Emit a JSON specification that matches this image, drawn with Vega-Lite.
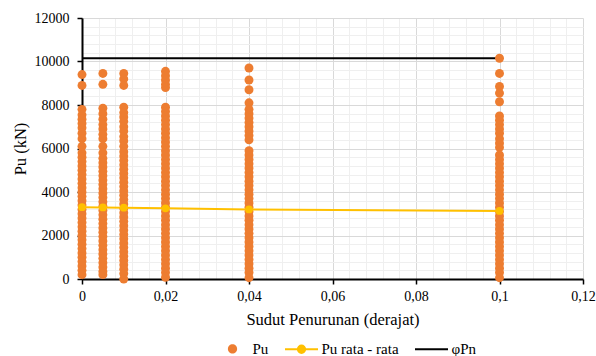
{
  "$schema": "https://vega.github.io/schema/vega-lite/v6.json",
  "width": 501,
  "height": 261,
  "autosize": {"type": "none"},
  "padding": {"left": 82, "top": 18, "right": 13, "bottom": 77},
  "background": "white",
  "config": {
    "view": {"stroke": null},
    "font": "Liberation Serif",
    "axis": {
      "labelFont": "Liberation Serif",
      "titleFont": "Liberation Serif",
      "labelColor": "#000000",
      "titleColor": "#000000",
      "titleFontWeight": "normal"
    },
    "legend": {"labelFont": "Liberation Serif", "labelColor": "#000000"}
  },
  "resolve": {"axis": {"x": "independent", "y": "independent"}},
  "layer": [
    {
      "description": "phi Pn capacity line; also carries the minor gridlines",
      "data": {"values": [
        {"x": 0, "pu": 10150},
        {"x": 0.1, "pu": 10150}
      ]},
      "mark": {"type": "line", "color": "#000000", "strokeWidth": 2},
      "encoding": {
        "x": {
          "field": "x", "type": "quantitative",
          "scale": {"domain": [0, 0.12], "nice": false, "zero": false},
          "axis": {
            "orient": "bottom", "title": null, "labels": false, "ticks": false, "domain": false,
            "grid": true, "gridColor": "#efefef", "gridWidth": 1,
            "values": [0.004, 0.008, 0.012, 0.016, 0.024, 0.028, 0.032, 0.036, 0.044, 0.048, 0.052, 0.056, 0.064, 0.068, 0.072, 0.076, 0.084, 0.088, 0.092, 0.096, 0.104, 0.108, 0.112, 0.116]
          }
        },
        "y": {
          "field": "pu", "type": "quantitative",
          "scale": {"domain": [0, 12000], "nice": false},
          "axis": {
            "orient": "left", "title": null, "labels": false, "ticks": false, "domain": false,
            "grid": true, "gridColor": "#efefef", "gridWidth": 1,
            "values": [400, 800, 1200, 1600, 2400, 2800, 3200, 3600, 4400, 4800, 5200, 5600, 6400, 6800, 7200, 7600, 8400, 8800, 9200, 9600, 10400, 10800, 11200, 11600]
          }
        }
      }
    },
    {
      "description": "Pu values for every settlement angle",
      "data": {"values": [
        {"series": "Pu", "x": 0, "pu": 9400}, {"series": "Pu", "x": 0, "pu": 8900}, {"series": "Pu", "x": 0, "pu": 7800}, {"series": "Pu", "x": 0, "pu": 7550},
        {"series": "Pu", "x": 0, "pu": 7350}, {"series": "Pu", "x": 0, "pu": 7150}, {"series": "Pu", "x": 0, "pu": 6950}, {"series": "Pu", "x": 0, "pu": 6700},
        {"series": "Pu", "x": 0, "pu": 6450}, {"series": "Pu", "x": 0, "pu": 6100}, {"series": "Pu", "x": 0, "pu": 5800}, {"series": "Pu", "x": 0, "pu": 5600},
        {"series": "Pu", "x": 0, "pu": 5400}, {"series": "Pu", "x": 0, "pu": 5200}, {"series": "Pu", "x": 0, "pu": 5000}, {"series": "Pu", "x": 0, "pu": 4800},
        {"series": "Pu", "x": 0, "pu": 4600}, {"series": "Pu", "x": 0, "pu": 4400}, {"series": "Pu", "x": 0, "pu": 4200}, {"series": "Pu", "x": 0, "pu": 4000},
        {"series": "Pu", "x": 0, "pu": 3800}, {"series": "Pu", "x": 0, "pu": 3600}, {"series": "Pu", "x": 0, "pu": 3400}, {"series": "Pu", "x": 0, "pu": 3200},
        {"series": "Pu", "x": 0, "pu": 3000}, {"series": "Pu", "x": 0, "pu": 2800}, {"series": "Pu", "x": 0, "pu": 2600}, {"series": "Pu", "x": 0, "pu": 2400},
        {"series": "Pu", "x": 0, "pu": 2200}, {"series": "Pu", "x": 0, "pu": 2000}, {"series": "Pu", "x": 0, "pu": 1800}, {"series": "Pu", "x": 0, "pu": 1600},
        {"series": "Pu", "x": 0, "pu": 1400}, {"series": "Pu", "x": 0, "pu": 1200}, {"series": "Pu", "x": 0, "pu": 1000}, {"series": "Pu", "x": 0, "pu": 800},
        {"series": "Pu", "x": 0, "pu": 600}, {"series": "Pu", "x": 0, "pu": 400}, {"series": "Pu", "x": 0, "pu": 200},

        {"series": "Pu", "x": 0.005, "pu": 9450}, {"series": "Pu", "x": 0.005, "pu": 8950}, {"series": "Pu", "x": 0.005, "pu": 7850}, {"series": "Pu", "x": 0.005, "pu": 7600},
        {"series": "Pu", "x": 0.005, "pu": 7350}, {"series": "Pu", "x": 0.005, "pu": 7100}, {"series": "Pu", "x": 0.005, "pu": 6900}, {"series": "Pu", "x": 0.005, "pu": 6650},
        {"series": "Pu", "x": 0.005, "pu": 6450}, {"series": "Pu", "x": 0.005, "pu": 6100}, {"series": "Pu", "x": 0.005, "pu": 5800}, {"series": "Pu", "x": 0.005, "pu": 5550},
        {"series": "Pu", "x": 0.005, "pu": 5350}, {"series": "Pu", "x": 0.005, "pu": 5150}, {"series": "Pu", "x": 0.005, "pu": 4950}, {"series": "Pu", "x": 0.005, "pu": 4750},
        {"series": "Pu", "x": 0.005, "pu": 4550}, {"series": "Pu", "x": 0.005, "pu": 4350}, {"series": "Pu", "x": 0.005, "pu": 4150}, {"series": "Pu", "x": 0.005, "pu": 3950},
        {"series": "Pu", "x": 0.005, "pu": 3750}, {"series": "Pu", "x": 0.005, "pu": 3550}, {"series": "Pu", "x": 0.005, "pu": 3350}, {"series": "Pu", "x": 0.005, "pu": 3150},
        {"series": "Pu", "x": 0.005, "pu": 2950}, {"series": "Pu", "x": 0.005, "pu": 2750}, {"series": "Pu", "x": 0.005, "pu": 2550}, {"series": "Pu", "x": 0.005, "pu": 2350},
        {"series": "Pu", "x": 0.005, "pu": 2150}, {"series": "Pu", "x": 0.005, "pu": 1950}, {"series": "Pu", "x": 0.005, "pu": 1750}, {"series": "Pu", "x": 0.005, "pu": 1550},
        {"series": "Pu", "x": 0.005, "pu": 1350}, {"series": "Pu", "x": 0.005, "pu": 1150}, {"series": "Pu", "x": 0.005, "pu": 950}, {"series": "Pu", "x": 0.005, "pu": 750},
        {"series": "Pu", "x": 0.005, "pu": 550}, {"series": "Pu", "x": 0.005, "pu": 350}, {"series": "Pu", "x": 0.005, "pu": 200},

        {"series": "Pu", "x": 0.01, "pu": 9450}, {"series": "Pu", "x": 0.01, "pu": 9200}, {"series": "Pu", "x": 0.01, "pu": 8900}, {"series": "Pu", "x": 0.01, "pu": 7900},
        {"series": "Pu", "x": 0.01, "pu": 7650}, {"series": "Pu", "x": 0.01, "pu": 7450}, {"series": "Pu", "x": 0.01, "pu": 7250}, {"series": "Pu", "x": 0.01, "pu": 7000},
        {"series": "Pu", "x": 0.01, "pu": 6800}, {"series": "Pu", "x": 0.01, "pu": 6550}, {"series": "Pu", "x": 0.01, "pu": 6350}, {"series": "Pu", "x": 0.01, "pu": 6100},
        {"series": "Pu", "x": 0.01, "pu": 5850}, {"series": "Pu", "x": 0.01, "pu": 5650}, {"series": "Pu", "x": 0.01, "pu": 5450}, {"series": "Pu", "x": 0.01, "pu": 5250},
        {"series": "Pu", "x": 0.01, "pu": 5050}, {"series": "Pu", "x": 0.01, "pu": 4850}, {"series": "Pu", "x": 0.01, "pu": 4650}, {"series": "Pu", "x": 0.01, "pu": 4450},
        {"series": "Pu", "x": 0.01, "pu": 4250}, {"series": "Pu", "x": 0.01, "pu": 4050}, {"series": "Pu", "x": 0.01, "pu": 3850}, {"series": "Pu", "x": 0.01, "pu": 3650},
        {"series": "Pu", "x": 0.01, "pu": 3450}, {"series": "Pu", "x": 0.01, "pu": 3250}, {"series": "Pu", "x": 0.01, "pu": 3050}, {"series": "Pu", "x": 0.01, "pu": 2850},
        {"series": "Pu", "x": 0.01, "pu": 2650}, {"series": "Pu", "x": 0.01, "pu": 2450}, {"series": "Pu", "x": 0.01, "pu": 2250}, {"series": "Pu", "x": 0.01, "pu": 2050},
        {"series": "Pu", "x": 0.01, "pu": 1850}, {"series": "Pu", "x": 0.01, "pu": 1650}, {"series": "Pu", "x": 0.01, "pu": 1450}, {"series": "Pu", "x": 0.01, "pu": 1250},
        {"series": "Pu", "x": 0.01, "pu": 1050}, {"series": "Pu", "x": 0.01, "pu": 850}, {"series": "Pu", "x": 0.01, "pu": 650}, {"series": "Pu", "x": 0.01, "pu": 450},
        {"series": "Pu", "x": 0.01, "pu": 250}, {"series": "Pu", "x": 0.01, "pu": 0},

        {"series": "Pu", "x": 0.02, "pu": 9550}, {"series": "Pu", "x": 0.02, "pu": 9350}, {"series": "Pu", "x": 0.02, "pu": 9150}, {"series": "Pu", "x": 0.02, "pu": 8950},
        {"series": "Pu", "x": 0.02, "pu": 8800}, {"series": "Pu", "x": 0.02, "pu": 7900}, {"series": "Pu", "x": 0.02, "pu": 7700}, {"series": "Pu", "x": 0.02, "pu": 7500},
        {"series": "Pu", "x": 0.02, "pu": 7300}, {"series": "Pu", "x": 0.02, "pu": 7100}, {"series": "Pu", "x": 0.02, "pu": 6900}, {"series": "Pu", "x": 0.02, "pu": 6700},
        {"series": "Pu", "x": 0.02, "pu": 6500}, {"series": "Pu", "x": 0.02, "pu": 6300}, {"series": "Pu", "x": 0.02, "pu": 6100}, {"series": "Pu", "x": 0.02, "pu": 5900},
        {"series": "Pu", "x": 0.02, "pu": 5700}, {"series": "Pu", "x": 0.02, "pu": 5500}, {"series": "Pu", "x": 0.02, "pu": 5300}, {"series": "Pu", "x": 0.02, "pu": 5100},
        {"series": "Pu", "x": 0.02, "pu": 4900}, {"series": "Pu", "x": 0.02, "pu": 4700}, {"series": "Pu", "x": 0.02, "pu": 4500}, {"series": "Pu", "x": 0.02, "pu": 4300},
        {"series": "Pu", "x": 0.02, "pu": 4100}, {"series": "Pu", "x": 0.02, "pu": 3900}, {"series": "Pu", "x": 0.02, "pu": 3700}, {"series": "Pu", "x": 0.02, "pu": 3500},
        {"series": "Pu", "x": 0.02, "pu": 3300}, {"series": "Pu", "x": 0.02, "pu": 3100}, {"series": "Pu", "x": 0.02, "pu": 2900}, {"series": "Pu", "x": 0.02, "pu": 2700},
        {"series": "Pu", "x": 0.02, "pu": 2500}, {"series": "Pu", "x": 0.02, "pu": 2300}, {"series": "Pu", "x": 0.02, "pu": 2100}, {"series": "Pu", "x": 0.02, "pu": 1900},
        {"series": "Pu", "x": 0.02, "pu": 1700}, {"series": "Pu", "x": 0.02, "pu": 1500}, {"series": "Pu", "x": 0.02, "pu": 1300}, {"series": "Pu", "x": 0.02, "pu": 1100},
        {"series": "Pu", "x": 0.02, "pu": 900}, {"series": "Pu", "x": 0.02, "pu": 700}, {"series": "Pu", "x": 0.02, "pu": 500}, {"series": "Pu", "x": 0.02, "pu": 300},
        {"series": "Pu", "x": 0.02, "pu": 80},

        {"series": "Pu", "x": 0.04, "pu": 9700}, {"series": "Pu", "x": 0.04, "pu": 9150}, {"series": "Pu", "x": 0.04, "pu": 8700}, {"series": "Pu", "x": 0.04, "pu": 8100},
        {"series": "Pu", "x": 0.04, "pu": 7800}, {"series": "Pu", "x": 0.04, "pu": 7600}, {"series": "Pu", "x": 0.04, "pu": 7400}, {"series": "Pu", "x": 0.04, "pu": 7200},
        {"series": "Pu", "x": 0.04, "pu": 7000}, {"series": "Pu", "x": 0.04, "pu": 6800}, {"series": "Pu", "x": 0.04, "pu": 6600}, {"series": "Pu", "x": 0.04, "pu": 6400},
        {"series": "Pu", "x": 0.04, "pu": 5900}, {"series": "Pu", "x": 0.04, "pu": 5700}, {"series": "Pu", "x": 0.04, "pu": 5500}, {"series": "Pu", "x": 0.04, "pu": 5300},
        {"series": "Pu", "x": 0.04, "pu": 5100}, {"series": "Pu", "x": 0.04, "pu": 4900}, {"series": "Pu", "x": 0.04, "pu": 4700}, {"series": "Pu", "x": 0.04, "pu": 4500},
        {"series": "Pu", "x": 0.04, "pu": 4300}, {"series": "Pu", "x": 0.04, "pu": 4100}, {"series": "Pu", "x": 0.04, "pu": 3900}, {"series": "Pu", "x": 0.04, "pu": 3700},
        {"series": "Pu", "x": 0.04, "pu": 3500}, {"series": "Pu", "x": 0.04, "pu": 3300}, {"series": "Pu", "x": 0.04, "pu": 3100}, {"series": "Pu", "x": 0.04, "pu": 2900},
        {"series": "Pu", "x": 0.04, "pu": 2700}, {"series": "Pu", "x": 0.04, "pu": 2500}, {"series": "Pu", "x": 0.04, "pu": 2300}, {"series": "Pu", "x": 0.04, "pu": 2100},
        {"series": "Pu", "x": 0.04, "pu": 1900}, {"series": "Pu", "x": 0.04, "pu": 1700}, {"series": "Pu", "x": 0.04, "pu": 1500}, {"series": "Pu", "x": 0.04, "pu": 1300},
        {"series": "Pu", "x": 0.04, "pu": 1100}, {"series": "Pu", "x": 0.04, "pu": 900}, {"series": "Pu", "x": 0.04, "pu": 700}, {"series": "Pu", "x": 0.04, "pu": 500},
        {"series": "Pu", "x": 0.04, "pu": 300}, {"series": "Pu", "x": 0.04, "pu": 60},

        {"series": "Pu", "x": 0.1, "pu": 10150}, {"series": "Pu", "x": 0.1, "pu": 9450}, {"series": "Pu", "x": 0.1, "pu": 8850}, {"series": "Pu", "x": 0.1, "pu": 8550},
        {"series": "Pu", "x": 0.1, "pu": 8150}, {"series": "Pu", "x": 0.1, "pu": 7500}, {"series": "Pu", "x": 0.1, "pu": 7300}, {"series": "Pu", "x": 0.1, "pu": 7100},
        {"series": "Pu", "x": 0.1, "pu": 6900}, {"series": "Pu", "x": 0.1, "pu": 6700}, {"series": "Pu", "x": 0.1, "pu": 6450}, {"series": "Pu", "x": 0.1, "pu": 6250},
        {"series": "Pu", "x": 0.1, "pu": 6050}, {"series": "Pu", "x": 0.1, "pu": 5700}, {"series": "Pu", "x": 0.1, "pu": 5500}, {"series": "Pu", "x": 0.1, "pu": 5300},
        {"series": "Pu", "x": 0.1, "pu": 5100}, {"series": "Pu", "x": 0.1, "pu": 4900}, {"series": "Pu", "x": 0.1, "pu": 4700}, {"series": "Pu", "x": 0.1, "pu": 4500},
        {"series": "Pu", "x": 0.1, "pu": 4300}, {"series": "Pu", "x": 0.1, "pu": 4100}, {"series": "Pu", "x": 0.1, "pu": 3900}, {"series": "Pu", "x": 0.1, "pu": 3700},
        {"series": "Pu", "x": 0.1, "pu": 3500}, {"series": "Pu", "x": 0.1, "pu": 3300}, {"series": "Pu", "x": 0.1, "pu": 3100}, {"series": "Pu", "x": 0.1, "pu": 2900},
        {"series": "Pu", "x": 0.1, "pu": 2700}, {"series": "Pu", "x": 0.1, "pu": 2500}, {"series": "Pu", "x": 0.1, "pu": 2300}, {"series": "Pu", "x": 0.1, "pu": 2100},
        {"series": "Pu", "x": 0.1, "pu": 1900}, {"series": "Pu", "x": 0.1, "pu": 1700}, {"series": "Pu", "x": 0.1, "pu": 1500}, {"series": "Pu", "x": 0.1, "pu": 1300},
        {"series": "Pu", "x": 0.1, "pu": 1100}, {"series": "Pu", "x": 0.1, "pu": 900}, {"series": "Pu", "x": 0.1, "pu": 700}, {"series": "Pu", "x": 0.1, "pu": 500},
        {"series": "Pu", "x": 0.1, "pu": 300}, {"series": "Pu", "x": 0.1, "pu": 60}
      ]},
      "mark": {"type": "circle", "size": 80, "opacity": 1},
      "encoding": {
        "x": {
          "field": "x", "type": "quantitative",
          "scale": {"domain": [0, 0.12], "nice": false, "zero": false},
          "axis": {
            "orient": "bottom",
            "title": "Sudut Penurunan (derajat)",
            "titleFont": "Liberation Serif", "titleFontSize": 16.5, "titlePadding": 8,
            "values": [0, 0.02, 0.04, 0.06, 0.08, 0.1, 0.12],
            "format": ".2~f",
            "labelExpr": "replace(datum.label, '.', ',')",
            "labelFont": "Liberation Serif", "labelFontSize": 14, "labelPadding": 5, "labelFlush": false, "labelOverlap": false,
            "grid": true, "gridColor": "#d9d9d9", "gridWidth": 1,
            "domainColor": "#000000", "domainWidth": 2,
            "tickColor": "#000000", "tickSize": 5, "tickWidth": 1.5
          }
        },
        "y": {
          "field": "pu", "type": "quantitative",
          "scale": {"domain": [0, 12000], "nice": false},
          "axis": {
            "orient": "left",
            "title": "Pu (kN)",
            "titleFont": "Liberation Serif", "titleFontSize": 16.5, "titlePadding": 6,
            "values": [0, 2000, 4000, 6000, 8000, 10000, 12000],
            "format": "d",
            "labelFont": "Liberation Serif", "labelFontSize": 14, "labelPadding": 8, "labelFlush": false, "labelOverlap": false,
            "grid": true, "gridColor": "#d9d9d9", "gridWidth": 1,
            "domainColor": "#000000", "domainWidth": 2,
            "tickColor": "#000000", "tickSize": 5, "tickWidth": 1.5
          }
        },
        "color": {
          "field": "series", "type": "nominal",
          "scale": {"domain": ["Pu", "Pu rata - rata", "φPn"], "range": ["#ED7D31", "#FFC000", "#000000"]},
          "legend": {
            "title": null,
            "orient": "none",
            "legendX": 133,
            "legendY": 313,
            "direction": "horizontal",
            "padding": 0,
            "symbolSize": 1089,
            "labelFont": "Liberation Serif",
            "labelFontSize": 15,
            "labelOffset": 2.5,
            "columnPadding": 12,
            "labelLimit": 200,
            "encoding": {
              "symbols": {
                "shape": {"value": {"expr": "datum.value === 'Pu' ? 'M0.28,0A0.28,0.28 0 1,1 -0.28,0A0.28,0.28 0 1,1 0.28,0Z' : datum.value === 'φPn' ? 'M-1,0H1' : 'M-1,0H1M0.22,0A0.22,0.22 0 1,1 -0.22,0A0.22,0.22 0 1,1 0.22,0Z'"}},
                "fill": {"value": {"expr": "datum.value === 'Pu' ? '#ED7D31' : datum.value === 'φPn' ? 'transparent' : '#FFC000'"}},
                "stroke": {"value": {"expr": "datum.value === 'Pu' ? 'transparent' : datum.value === 'φPn' ? '#000000' : '#FFC000'"}},
                "strokeWidth": {"value": 2},
                "opacity": {"value": 1},
                "fillOpacity": {"value": 1},
                "strokeOpacity": {"value": 1}
              }
            }
          }
        }
      }
    },
    {
      "description": "average Pu per settlement angle",
      "data": {"values": [
        {"x": 0, "pu": 3300},
        {"x": 0.005, "pu": 3290},
        {"x": 0.01, "pu": 3280},
        {"x": 0.02, "pu": 3250},
        {"x": 0.04, "pu": 3200},
        {"x": 0.1, "pu": 3130}
      ]},
      "mark": {"type": "line", "color": "#FFC000", "strokeWidth": 2, "point": {"filled": true, "size": 60, "color": "#FFC000", "opacity": 1}},
      "encoding": {
        "x": {"field": "x", "type": "quantitative", "axis": null},
        "y": {"field": "pu", "type": "quantitative", "axis": null}
      }
    }
  ]
}
